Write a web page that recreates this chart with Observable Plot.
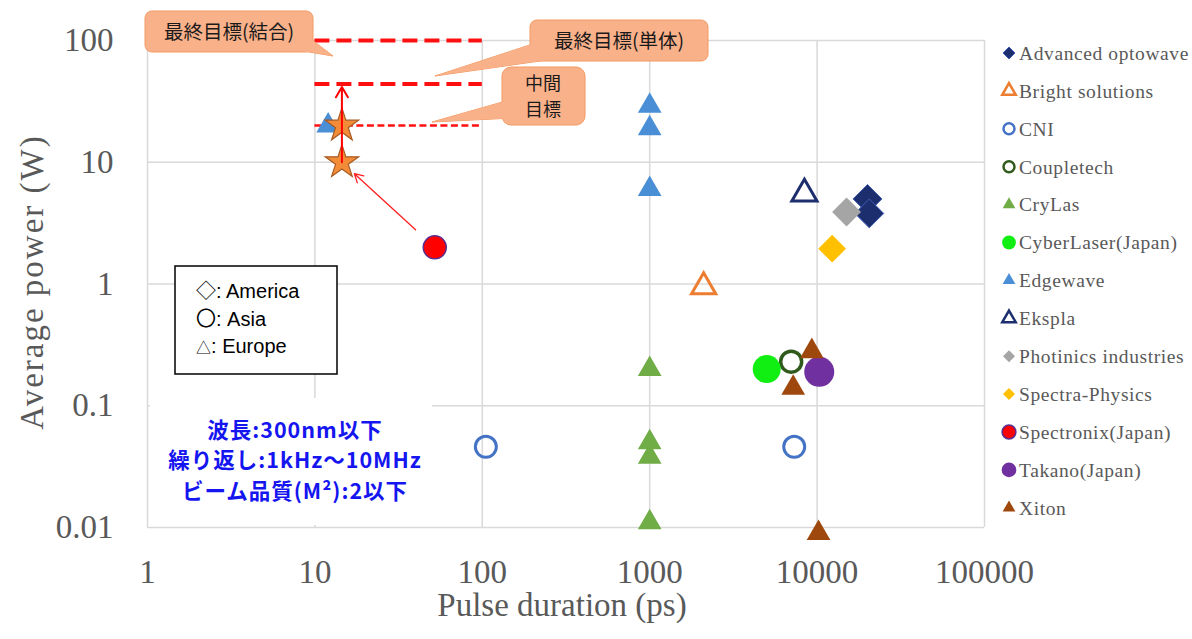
<!DOCTYPE html>
<html><head><meta charset="utf-8">
<script src="https://cdn.jsdelivr.net/npm/d3@7"></script>
<script src="https://cdn.jsdelivr.net/npm/@observablehq/plot@0.6"></script>
<style>html,body{margin:0;padding:0;background:#fff;overflow:hidden}</style>
</head><body><div id="chart"></div>
<script>
// ---- data ----
const companies = ["Advanced optowave","Bright solutions","CNI","Coupletech","CryLas","CyberLaser(Japan)","Edgewave","Ekspla","Photinics industries","Spectra-Physics","Spectronix(Japan)","Takano(Japan)","Xiton"];
const pointCompany = ["Advanced optowave","Advanced optowave","Bright solutions","CNI","CNI","Coupletech","CryLas","CryLas","CryLas","CryLas","CyberLaser(Japan)","Edgewave","Edgewave","Edgewave","Edgewave","Ekspla","Photinics industries","Spectra-Physics","Spectronix(Japan)","Takano(Japan)","Xiton","Xiton","Xiton"];
const pulseDuration = [20000,20500,2100,105,7300,7000,1000,1000,1000,1000,5000,12,1000,1000,1000,8400,15000,12300,52,10300,9300,7200,10200];
const averagePower = [5,3.8,0.95,0.046,0.046,0.23,0.2,0.05,0.038,0.011,0.2,20,29,19,6,5.5,3.9,1.95,2,0.19,0.28,0.14,0.009];
const targetPower = [100,44,20];
const targetFrom = 10, targetTo = 100;
const calloutLines = [["最終目標(結合)"],["最終目標(単体)"],["中間","目標"]];
const projectPulse = [14.5,14.5];
const projectPower = [10,20];
const xTicks = [1,10,100,1000,10000,100000];
const xTickLabels = ["1","10","100","1000","10000","100000"];
const yTicks = [0.01,0.1,1,10,100];
const yTickLabels = ["0.01","0.1","1","10","100"];
const xTitle = "Pulse duration (ps)";
const yTitle = "Average power (W)";
const conditionLines = ["波長:300nm以下","繰り返し:1kHz～10MHz","ビーム品質(M²):2以下"];
const regionSymbols = ["◇","〇","△"];
const regionNames = [": America",": Asia",": Europe"];

// ---- styles ----
const styleOf = {
  "Advanced optowave":   {symbol:"diamond2", fill:"#1c2e6e", stroke:"#3d5cb3", sw:1,   r:13,  ls:92},
  "Bright solutions":    {symbol:"triangle2",fill:"none",    stroke:"#ed7d31", sw:3,   r:11.5,ls:130},
  "CNI":                 {symbol:"circle",   fill:"none",    stroke:"#4472c4", sw:3,   r:10.5,ls:95},
  "Coupletech":          {symbol:"circle",   fill:"none",    stroke:"#2f5a1c", sw:3.5, r:10.5,ls:95},
  "CryLas":              {symbol:"triangle", fill:"#70ad47", stroke:"none",    sw:0,   r:8.8, ls:70},
  "CyberLaser(Japan)":   {symbol:"circle",   fill:"#11ee11", stroke:"none",    sw:0,   r:14,  ls:150},
  "Edgewave":            {symbol:"triangle", fill:"#4a8fd6", stroke:"none",    sw:0,   r:8.8, ls:70},
  "Ekspla":              {symbol:"triangle2",fill:"none",    stroke:"#1c2e6e", sw:3,   r:12,  ls:130},
  "Photinics industries":{symbol:"diamond2", fill:"#a5a5a5", stroke:"none",    sw:0,   r:13,  ls:92},
  "Spectra-Physics":     {symbol:"diamond2", fill:"#ffc000", stroke:"none",    sw:0,   r:12.5,ls:92},
  "Spectronix(Japan)":   {symbol:"circle",   fill:"#ff0000", stroke:"#5b2d8f", sw:1.5, r:11.5,ls:150},
  "Takano(Japan)":       {symbol:"circle",   fill:"#7030a0", stroke:"none",    sw:0,   r:15,  ls:170},
  "Xiton":               {symbol:"triangle", fill:"#9e480e", stroke:"none",    sw:0,   r:8.8, ls:70}
};

const rows = pulseDuration.map((x, i) => ({x, y: averagePower[i], company: pointCompany[i]}));
const projects = projectPulse.map((x, i) => ({x, y: projectPower[i]}));

const dotMarks = companies.map(c => {
  const s = styleOf[c];
  return Plot.dot(rows.filter(d => d.company === c), {
    x: "x", y: "y", symbol: s.symbol, r: s.r, fill: s.fill,
    stroke: s.stroke, strokeWidth: s.sw
  });
});

const spectronix = rows.find(d => d.company === "Spectronix(Japan)");

const plot = Plot.plot({
  width: 1192, height: 639,
  marginLeft: 147, marginRight: 208, marginTop: 40, marginBottom: 112,
  style: {fontFamily: "'Liberation Serif', 'Times New Roman', serif", fontSize: "33px", color: "#595959", background: "#fff"},
  x: {type: "log", domain: [1, 100000], ticks: xTicks, tickFormat: d => xTickLabels[xTicks.indexOf(d)], tickSize: 0, tickPadding: 32, label: null},
  y: {type: "log", domain: [0.01, 100], ticks: yTicks, tickFormat: d => yTickLabels[yTicks.indexOf(d)], tickSize: 0, tickPadding: 34, label: null},
  marks: [
    Plot.gridX(xTicks, {stroke: "#d9d9d9", strokeOpacity: 1, strokeWidth: 1.5}),
    Plot.gridY(yTicks, {stroke: "#d9d9d9", strokeOpacity: 1, strokeWidth: 1.5}),
    Plot.ruleY(targetPower.slice(0, 2), {y: d => d, x1: targetFrom, x2: targetTo, stroke: "#ff1010", strokeWidth: 4, strokeDasharray: "15,7"}),
    Plot.ruleY(targetPower.slice(2), {y: d => d, x1: targetFrom, x2: targetTo, stroke: "#ff1010", strokeWidth: 2.5, strokeDasharray: "7,3.5"}),
    ...dotMarks,
    Plot.dot(projects, {x: "x", y: "y", symbol: "star", r: 10.5, fill: "#f28c38", stroke: "#a85a22", strokeWidth: 1.2}),
    Plot.arrow([projects[0]], {x1: "x", y1: "y", x2: "x", y2: () => targetPower[1], stroke: "#ff0000", strokeWidth: 2, headLength: 9, insetEnd: 3}),
    Plot.arrow([spectronix], {x1: "x", y1: "y", x2: () => projects[0].x, y2: () => projects[0].y, stroke: "#ff2020", strokeWidth: 1.3, headLength: 11, insetStart: 26, insetEnd: 17}),
    Plot.text([xTitle], {frameAnchor: "bottom", dy: 78, dx: -4, lineAnchor: "middle", textAnchor: "middle", fontSize: 33, fill: "#595959"}),
    Plot.text([yTitle], {frameAnchor: "left", dx: -115, dy: -2, rotate: -90, lineAnchor: "middle", textAnchor: "middle", fontSize: 33, fill: "#595959"})
  ]
});
document.getElementById("chart").appendChild(plot);

// ---- annotations (overlay) ----
const svg = d3.select(plot);
svg.selectAll("text").filter(function(){ return this.textContent === yTitle; }).style("letter-spacing", "2px");

const ann = svg.append("g").attr("text-anchor", "start");
// white backing behind the conditions text
ann.append("rect").attr("x", 150).attr("y", 398).attr("width", 282).attr("height", 127).attr("fill", "#fff");
const cond = ann.append("g").attr("font-family", "'Noto Sans CJK JP', sans-serif").attr("font-weight", "bold")
  .attr("font-size", 21.5).attr("letter-spacing", 1).attr("fill", "#1515f0").attr("text-anchor", "middle");
conditionLines.forEach((t, i) => cond.append("text").attr("x", 295).attr("y", 430 + i * 30.5).attr("dy", "0.36em").text(t));

// region box
ann.append("rect").attr("x", 175).attr("y", 266).attr("width", 162).attr("height", 108)
  .attr("fill", "#fff").attr("stroke", "#000").attr("stroke-width", 1.5);
const reg = ann.append("g").attr("font-family", "'Liberation Sans', Arial, sans-serif").attr("font-size", 20).attr("fill", "#000").attr("text-anchor", "start");
regionNames.forEach((t, i) => {
  const tx = reg.append("text").attr("x", 196).attr("y", 291 + i * 27.5).attr("dy", "0.36em");
  tx.append("tspan").attr("font-family", "'Noto Sans CJK JP', sans-serif")
    .attr("font-size", i === 2 ? 15 : 20).text(regionSymbols[i]);
  tx.append("tspan").text(t);
});

// callouts
const calloutFill = "#f9b18a", calloutStroke = "#f39a62";
const callouts = [
  {rect: [145, 11, 168, 41, 7], tail: [[303, 33], [333, 56], [303, 51]], text: [[229, 32]]},
  {rect: [530, 20, 178, 41, 7], tail: [[542, 41], [435, 76], [547, 60]], text: [[619, 41]]},
  {rect: [502, 67, 83, 58, 9],  tail: [[513, 99], [432, 122], [513, 118]], text: [[543, 83.5], [543, 110]]}
];
callouts.forEach((c, k) => {
  const g = ann.append("g");
  const line = d3.line();
  g.append("path").attr("d", line(c.tail) + "Z").attr("fill", calloutFill).attr("stroke", calloutStroke).attr("stroke-width", 1);
  g.append("rect").attr("x", c.rect[0]).attr("y", c.rect[1]).attr("width", c.rect[2]).attr("height", c.rect[3]).attr("rx", c.rect[4])
    .attr("fill", calloutFill).attr("stroke", calloutStroke).attr("stroke-width", 1);
  g.append("path").attr("d", line(c.tail) + "Z").attr("fill", calloutFill);
  c.text.forEach((p, j) => g.append("text").attr("x", p[0]).attr("y", p[1]).attr("dy", "0.36em")
    .attr("text-anchor", "middle").attr("font-family", "'Noto Sans CJK JP', sans-serif").attr("font-size", c.text.length > 1 ? 18 : 19.5)
    .attr("fill", "#1a1a1a").text(calloutLines[k][j]));
});

// legend
const symbolTypes = {diamond2: d3.symbolDiamond2 || d3.symbolDiamond, triangle: d3.symbolTriangle, triangle2: d3.symbolTriangle2 || d3.symbolTriangle, circle: d3.symbolCircle};
const leg = svg.append("g").attr("text-anchor", "start");
companies.forEach((c, i) => {
  const s = styleOf[c];
  const y = 53 + i * 37.9;
  leg.append("path").attr("transform", `translate(1009,${y})`)
    .attr("d", d3.symbol(symbolTypes[s.symbol], s.ls)())
    .attr("fill", s.fill).attr("stroke", s.stroke === "none" ? null : s.stroke)
    .attr("stroke-width", s.fill === "none" ? 2.5 : s.sw);
  leg.append("text").attr("x", 1019).attr("y", y).attr("dy", "0.35em").attr("text-anchor", "start")
    .attr("font-family", "'Liberation Serif', 'Times New Roman', serif").attr("font-size", 19.5)
    .attr("letter-spacing", 0.6).attr("fill", "#595959").text(c);
});
</script>
</body></html>
